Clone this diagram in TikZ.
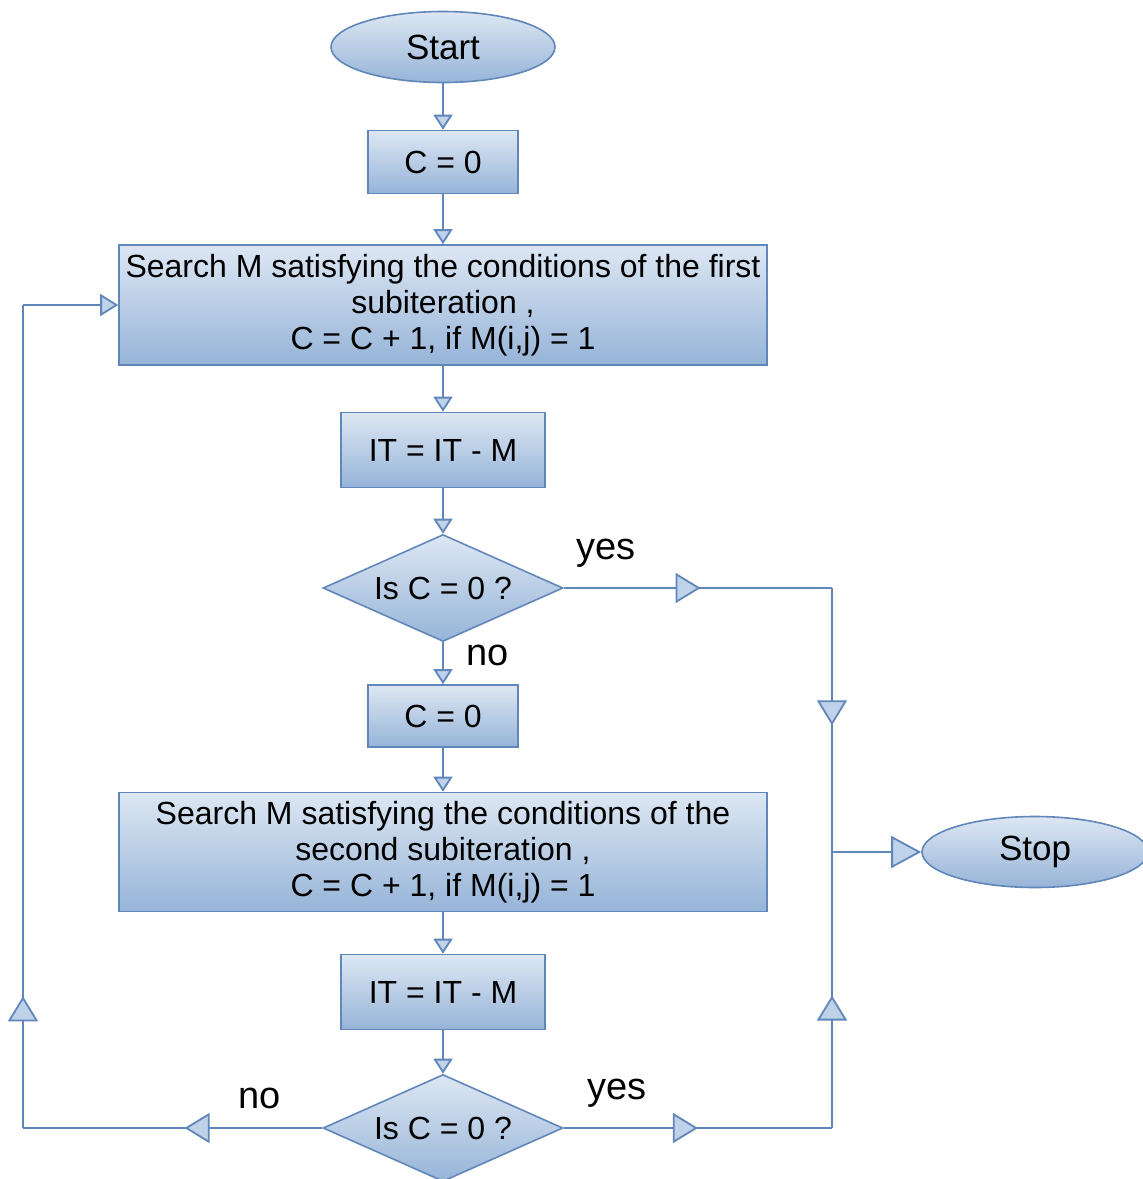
\documentclass[tikz,border=0pt]{standalone}
\usepackage{fontspec}
\setmainfont{Liberation Sans}
\usepackage{tikz}
\usetikzlibrary{arrows.meta,positioning,shapes.geometric}
\usetikzlibrary{decorations.markings}
\definecolor{boxTop}{RGB}{221,231,243}
\definecolor{boxBot}{RGB}{150,180,216}
\definecolor{edgeBlue}{RGB}{96,134,186}
\definecolor{tipFill}{RGB}{190,210,234}
\tikzstyle{nBox}=[rectangle,draw=edgeBlue,line width=0.8pt,top color=boxTop,bottom color=boxBot,inner sep=0pt,align=center,font=\fontsize{16pt}{18pt}\selectfont]
\tikzstyle{nTerm}=[nBox,ellipse,font=\fontsize{17.5pt}{20pt}\selectfont]
\tikzstyle{nDec}=[nBox,diamond,aspect=2.24]
\tikzstyle{eLbl}=[inner sep=0pt,font=\fontsize{19pt}{21pt}\selectfont]
\tikzstyle{eLine}=[draw=edgeBlue,line width=0.9pt]
\tikzstyle{eFlow}=[eLine,-{Triangle[width=9.5pt,length=7.5pt,fill=tipFill]}]
\tikzstyle{eEnd}=[eLine,-{Triangle[width=16pt,length=15pt,fill=tipFill]}]
\tikzset{midTip/.style={postaction={decorate,decoration={markings,
  mark=at position #1 with {\arrow{Triangle[width=15pt,length=12.5pt,fill=tipFill]}}}}}}

\begin{document}
\begin{tikzpicture}[x=0.5pt,y=-0.5pt]
                \clip (0,0) rectangle (1143,1179);
                % main column
                \draw (443,47) node[nTerm,minimum width=112pt,minimum height=35.5pt] (start) {Start};
                \draw (443,162) node[nBox,minimum width=75pt,minimum height=31.5pt] (c1) {C = 0};
                \draw (443,305) node[nBox,minimum width=324pt,minimum height=60pt] (s1) {Search M satisfying the conditions of the first\\subiteration ,\\C = C + 1, if M(i,j) = 1};
                \draw (443,450) node[nBox,minimum width=102pt,minimum height=37.5pt] (it1) {IT = IT - M};
                \draw (443,588) node[nDec,minimum width=120pt,minimum height=53.5pt] (d1) {Is C = 0 ?};
                \draw (443,716) node[nBox,minimum width=75pt,minimum height=31pt] (c2) {C = 0};
                \draw (443,852) node[nBox,minimum width=324pt,minimum height=59.5pt] (s2) {Search M satisfying the conditions of the\\second subiteration ,\\C = C + 1, if M(i,j) = 1};
                \draw (443,992) node[nBox,minimum width=102pt,minimum height=37.5pt] (it2) {IT = IT - M};
                \draw (443,1128) node[nDec,minimum width=120pt,minimum height=53.5pt] (d2) {Is C = 0 ?};
                \draw (1035,852) node[nTerm,minimum width=113pt,minimum height=35.5pt] (stop) {Stop};
                % bends
                \coordinate (rTop) at (832,588);
                \coordinate (rMid) at (832,852);
                \coordinate (rBot) at (832,1128);
                \coordinate (lBot) at (23,1128);
                \coordinate (lTop) at (23,305);
                % labels
                \draw (606,553) node[eLbl] (yes1) {yes};
                \draw (488,655) node[eLbl] (no1) {no};
                \draw (617,1093) node[eLbl] (yes2) {yes};
                \draw (260,1098) node[eLbl] (no2) {no};
                \path
                    (start) edge[eFlow] (c1)
                    (c1) edge[eFlow] (s1)
                    (s1) edge[eFlow] (it1)
                    (it1) edge[eFlow] (d1)
                    (d1) edge[eFlow] (c2)
                    (c2) edge[eFlow] (s2)
                    (s2) edge[eFlow] (it2)
                    (it2) edge[eFlow] (d2)
                ;
                \draw[eLine,midTip=0.51] (d1.east) -- (rTop);
                \draw[eLine,midTip=0.52] (rTop) -- (rMid);
                \draw[eEnd] (rMid) -- (stop.west);
                \draw[eLine,midTip=0.5] (d2.east) -- (rBot);
                \draw[eLine,midTip=0.48] (rBot) -- (rMid);
                \draw[eLine,midTip=0.46] (d2.west) -- (lBot);
                \draw[eLine,midTip=0.16] (lBot) -- (lTop);
                \draw[eLine,-{Triangle[width=11pt,length=9pt,fill=tipFill]}] (lTop) -- (s1.west);
        \end{tikzpicture}
\end{document}
